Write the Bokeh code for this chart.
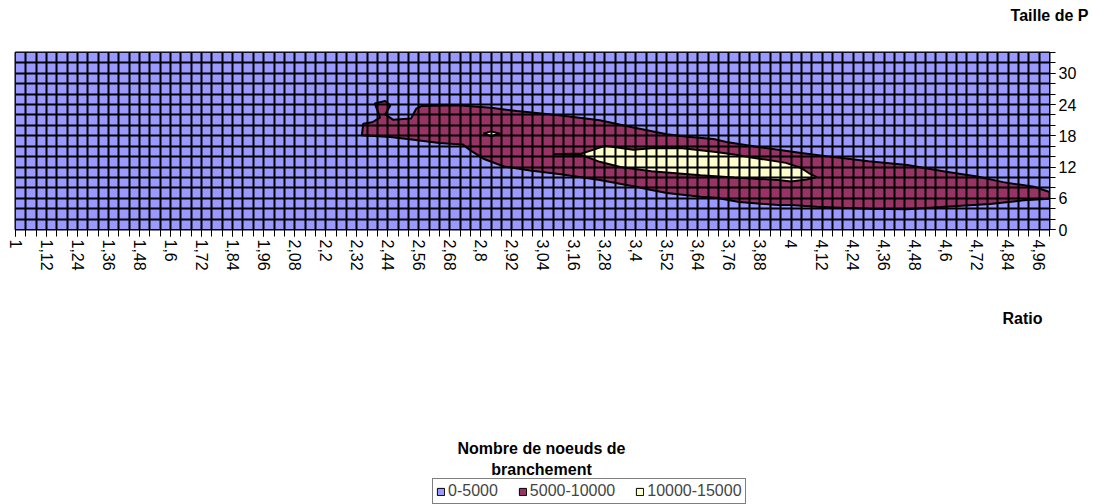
from bokeh.plotting import figure
from bokeh.layouts import column
from bokeh.models import FixedTicker, Label, Legend, LegendItem, Range1d
from bokeh.embed import file_html
from bokeh.resources import INLINE

# ---------------- data ----------------
# categories (Ratio) and series (Taille de P)
ratio = [round(1 + 0.04 * i, 2) for i in range(101)]          # 1.00 ... 5.00
taille = [0, 2, 4, 6, 8, 10, 12, 14, 16, 18, 20, 22, 24, 26, 28, 30, 32, 34]

ratio_tick_labels = ["1", "1,12", "1,24", "1,36", "1,48", "1,6", "1,72", "1,84",
                     "1,96", "2,08", "2,2", "2,32", "2,44", "2,56", "2,68", "2,8",
                     "2,92", "3,04", "3,16", "3,28", "3,4", "3,52", "3,64", "3,76",
                     "3,88", "4", "4,12", "4,24", "4,36", "4,48", "4,6", "4,72",
                     "4,84", "4,96"]
taille_tick_labels = [0, 6, 12, 18, 24, 30]

legend_labels = ["0-5000", "5000-10000", "10000-15000"]
band_colors = ["#9999FF", "#993366", "#FFFFCC"]

# contour band 5000-10000 (outline: ratio, taille)
band2_x = [2.34, 2.345, 2.38, 2.41, 2.39, 2.43, 2.45, 2.43, 2.46, 2.53, 2.55, 2.57,
           2.71, 2.84, 2.94, 3.11, 3.26, 3.39, 3.52, 3.60, 3.70, 3.75, 3.88, 4.04,
           4.15, 4.30, 4.45, 4.60, 4.72, 4.82, 4.94, 5.00, 5.00,
           4.90, 4.77, 4.58, 4.45, 4.30, 4.19, 4.10, 4.00, 3.95, 3.80, 3.71, 3.65,
           3.52, 3.46, 3.39, 3.26, 3.11, 2.99, 2.89, 2.81, 2.76, 2.73, 2.64, 2.54, 2.45]
band2_y = [18.1, 20.3, 20.6, 21.5, 24.2, 24.7, 23.8, 22.1, 21.1, 21.3, 23.2, 23.7,
           23.85, 23.4, 22.75, 21.9, 21.0, 19.6, 18.3, 17.8, 17.4, 16.8, 15.8, 14.7,
           14.0, 13.1, 12.4, 11.1, 10.2, 9.1, 8.2, 7.2, 5.9,
           5.6, 4.9, 4.3, 3.9, 4.0, 4.2, 4.35, 4.7, 4.7, 5.3, 6.1, 6.3,
           7.0, 7.6, 8.3, 9.5, 10.6, 11.35, 12.1, 13.6, 15.2, 16.35, 16.6, 17.25, 17.75]

# contour band 10000-15000: main zone and small isolated spot
band3_main_x = [3.08, 3.19, 3.24, 3.28, 3.39, 3.46, 3.58, 3.71, 3.78, 3.84, 3.98,
                4.04, 4.07, 4.10, 4.06, 4.00, 3.95, 3.78, 3.65, 3.46, 3.34, 3.26, 3.19]
band3_main_y = [14.45, 14.6, 15.4, 16.1, 15.3, 15.6, 15.6, 14.9, 14.4, 13.9, 12.8,
                11.8, 10.8, 10.06, 9.6, 9.2, 9.5, 10.0, 10.4, 11.2, 12.0, 13.0, 14.3]
band3_spot_x = [2.81, 2.84, 2.875, 2.84]
band3_spot_y = [18.4, 18.85, 18.4, 17.95]

# ---------------- layout ----------------
FONT = "Liberation Sans"
W = 1093
TOP_H = 50
MAIN_H = 227
BOT_H = 504 - TOP_H - MAIN_H
FRAME_L, FRAME_R = 15, 44
HAS_FRAME_ALIGN = "frame_align" in figure.properties()


def blank(height, y_top):
    if HAS_FRAME_ALIGN:
        xr, bl, br = Range1d(0, W), 0, 0
    else:
        xr, bl, br = Range1d(FRAME_L, W - FRAME_R), FRAME_L, FRAME_R
    f = figure(width=W, height=height, x_range=xr,
               y_range=Range1d(y_top + height, y_top), output_backend="svg",
               toolbar_location=None, x_axis_type=None, y_axis_type=None,
               min_border_left=bl, min_border_right=br, min_border_top=0,
               min_border_bottom=0, outline_line_color=None,
               background_fill_color="white", border_fill_color="white")
    f.grid.visible = False
    if HAS_FRAME_ALIGN:
        f.frame_align = False
    return f


def add_text(f, txt, x, y, align):
    f.add_layout(Label(x=x, y=y, text=txt, text_font=FONT, text_font_size="16px",
                       text_font_style="bold", text_align=align,
                       text_baseline="middle", text_color="black"))


# --- top strip: series axis title
top = blank(TOP_H, 0)
add_text(top, "Taille de P", 1088, 15, "right")

# --- main contour chart
p = figure(width=W, height=MAIN_H, x_range=(ratio[0], ratio[-1]),
           y_range=(taille[0], taille[-1]), output_backend="svg",
           toolbar_location=None, y_axis_location="right",
           min_border_left=FRAME_L, min_border_right=FRAME_R, min_border_top=2,
           min_border_bottom=48, background_fill_color=band_colors[0],
           border_fill_color="white", outline_line_color="black",
           outline_line_width=2)
if HAS_FRAME_ALIGN:
    p.frame_align = False

p.quad(left=[ratio[0]], right=[ratio[-1]], bottom=[taille[0]], top=[taille[-1]],
       fill_color=band_colors[0], line_color="black", line_width=1)
p.patch(band2_x, band2_y, fill_color=band_colors[1], line_color="black", line_width=2)
p.patches([band3_main_x, band3_spot_x], [band3_main_y, band3_spot_y],
          fill_color=band_colors[2], line_color="black", line_width=2)

p.xgrid.ticker = FixedTicker(ticks=ratio)
p.ygrid.ticker = FixedTicker(ticks=taille)
for g in p.grid:
    g.grid_line_color = "black"
    g.grid_line_width = 2
    g.grid_line_alpha = 1
    g.level = "annotation"

xa = p.xaxis[0]
xa.ticker = FixedTicker(ticks=ratio[::3], minor_ticks=ratio)
xa.major_label_overrides = dict(zip(ratio[::3], ratio_tick_labels))
xa.major_label_orientation = "vertical"
ya = p.yaxis[0]
ya.ticker = FixedTicker(ticks=taille_tick_labels, minor_ticks=taille)
for ax, ln in ((xa, 7), (ya, 6)):
    ax.major_tick_in = 0
    ax.major_tick_out = ln
    ax.minor_tick_in = 0
    ax.minor_tick_out = ln
    ax.major_tick_line_color = "black"
    ax.minor_tick_line_color = "black"
    ax.axis_line_color = "black"
    ax.major_label_standoff = 3
    ax.major_label_text_font = FONT
    ax.major_label_text_font_size = "16px"
    ax.major_label_text_color = "black"

# --- bottom strip: category axis title, value title and legend
y0 = TOP_H + MAIN_H
bot = blank(BOT_H, y0)
add_text(bot, "Ratio", 1002, 318, "left")
add_text(bot, "Nombre de noeuds de", 541, 448, "center")
add_text(bot, "branchement", 541, 469, "center")

# legend swatches: one off-canvas quad per band so that the legend can draw its key
sw = [bot.quad(left=[-60], right=[-50], bottom=[y0 + 10], top=[y0 + 20],
               fill_color=c, line_color="black", line_width=1) for c in band_colors]
leg_x = 432 if HAS_FRAME_ALIGN else 432 - FRAME_L
legend = Legend(items=[LegendItem(label=t, renderers=[r]) for t, r in zip(legend_labels, sw)],
                orientation="horizontal", location=(leg_x, 0),
                border_line_color="black", border_line_width=1,
                background_fill_color="white", background_fill_alpha=1,
                label_text_font=FONT, label_text_font_size="16px",
                glyph_width=9, glyph_height=9, label_standoff=3, spacing=20,
                padding=3, margin=0, label_height=16)
bot.add_layout(legend)

layout = column(top, p, bot, spacing=0)
open("out.html", "w").write(file_html(layout, INLINE))
